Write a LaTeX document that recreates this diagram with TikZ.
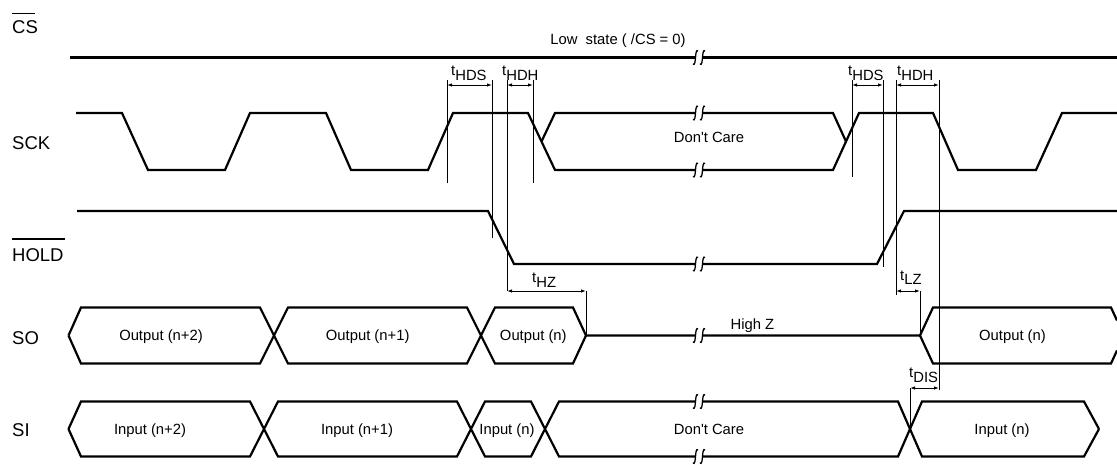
\documentclass[tikz,border=0pt]{standalone}
\usepackage{fontspec}
\setmainfont{Liberation Sans}
\usetikzlibrary{arrows.meta}
\newcommand{\tsub}[1]{t\raisebox{-5pt}{#1}}
\begin{document}
\begin{tikzpicture}[x=1pt,y=-1pt,
  sig/.style={line width=2.2pt, line join=miter},
  thinl/.style={line width=0.9pt},
  dim/.style={line width=0.9pt,{Latex[length=5pt,width=3.5pt]}-{Latex[length=5pt,width=3.5pt]}},
  lbl/.style={font=\fontsize{18.5}{20}\selectfont, inner sep=0pt, anchor=base west},
  txt/.style={font=\fontsize{14.8}{16}\selectfont, inner sep=0pt, anchor=base},
  tm/.style={font=\fontsize{14.8}{16}\selectfont, inner sep=0pt, anchor=base west},
  brk/.style={line width=1.3pt},
  brkpic/.pic={\draw[brk] (2.6,-6.5) .. controls (-1.2,-10) and (1.2,10) .. (-2.6,6.5);}]
\useasboundingbox (0,0) rectangle (1117,465);

% signal labels
\node[lbl] (cs) at (12,34) {CS};
\draw[line width=1.3pt] (12,13.5) -- (35,13.5);
\node[lbl] (sck) at (12,149.5) {SCK};
\node[lbl] (hold) at (12,261.5) {HOLD};
\draw[line width=1.3pt] (12,239) -- (65,239);
\node[lbl] (so) at (12,344) {SO};
\node[lbl] (si) at (12,436.5) {SI};

% CS
\draw[sig] (70,57.5) -- (695.5,57.5);
\draw[sig] (702.5,57.5) -- (1117,57.5);
\node[txt] (low) at (618,45) {Low~~state ( /CS = 0)};

% SCK
\draw[sig] (76,113) -- (122,113) -- (148,170) -- (225,170) -- (250,113) -- (326,113) -- (351,170) -- (428,170) -- (453,113) -- (528,113) -- (555,170) -- (695.5,170);
\draw[sig] (702.5,170) -- (833,170) -- (859,113) -- (933,113) -- (958,170) -- (1036,170) -- (1062,113) -- (1117,113);
\draw[sig] (541.5,141.5) -- (555,113) -- (695.5,113);
\draw[sig] (702.5,113) -- (833,113) -- (846,141.5);
\node[txt] (dc1) at (709,143) {Don\textquotesingle t Care};

% HOLD
\draw[sig] (77,211) -- (488,211) -- (514,264) -- (695.5,264);
\draw[sig] (702.5,264) -- (877,264) -- (904,211) -- (1117,211);

% SO
\draw[sig] (68.5,335.5) -- (81,307.5) -- (260,307.5) -- (288,363.5) -- (467,363.5) -- (495,307.5) -- (573,307.5) -- (586,335.5) -- (695.5,335.5);
\draw[sig] (68.5,335.5) -- (81,363.5) -- (260,363.5) -- (288,307.5) -- (467,307.5) -- (495,363.5) -- (573,363.5) -- (586,335.5);
\draw[sig] (702.5,335.5) -- (920,335.5) -- (933,307.5) -- (1111,307.5) -- (1117,320.5);
\draw[sig] (920,335.5) -- (933,363.5) -- (1111,363.5) -- (1117,350.5);
\node[txt] (o2) at (161,340.5) {Output (n+2)};
\node[txt] (o1) at (367.7,340.5) {Output (n+1)};
\node[txt] (o0) at (533.3,340.5) {Output (n)};
\node[txt] (hz) at (752.5,329) {High Z};
\node[txt] (o0b) at (1012.5,340.5) {Output (n)};

% SI
\draw[sig] (68.5,429) -- (81,401.5) -- (250,401.5) -- (278,456.5) -- (457,456.5) -- (485,401.5) -- (531,401.5) -- (559,456.5) -- (695.5,456.5);
\draw[sig] (68.5,429) -- (81,456.5) -- (250,456.5) -- (278,401.5) -- (457,401.5) -- (485,456.5) -- (531,456.5) -- (559,401.5) -- (695.5,401.5);
\draw[sig] (702.5,456.5) -- (898,456.5) -- (922,401.5) -- (1084,401.5) -- (1099,429);
\draw[sig] (702.5,401.5) -- (898,401.5) -- (922,456.5) -- (1084,456.5) -- (1099,429);
\node[txt] (i2) at (150,434) {Input (n+2)};
\node[txt] (i1) at (357,434) {Input (n+1)};
\node[txt] (i0) at (507,434) {Input (n)};
\node[txt] (dc2) at (709,434) {Don\textquotesingle t Care};
\node[txt] (i0b) at (1002,434) {Input (n)};

% break marks
\foreach \y in {57.5,113,170,264,335.5,401.5,456.5}{
  \pic at (695.5,\y) {brkpic};
  \pic at (702.5,\y) {brkpic};
}

% timing reference lines
\draw[thinl] (447,80) -- (447,183);
\draw[thinl] (492,80) -- (492,238);
\draw[thinl] (507,80) -- (507,291);
\draw[thinl] (533,80) -- (533,183);
\draw[thinl] (586,291) -- (586,335.5);
\draw[thinl] (852,80) -- (852,177);
\draw[thinl] (883,80) -- (883,267);
\draw[thinl] (896,80) -- (896,295);
\draw[thinl] (939,80) -- (939,390);
\draw[thinl] (920,291) -- (920,335.5);
\draw[thinl] (910,388) -- (910,429);

% dimension arrows
\draw[dim] (447,85) -- (492,85);
\draw[dim] (507,85) -- (533,85);
\draw[dim] (852,85) -- (883,85);
\draw[dim] (896,85) -- (939,85);
\draw[dim] (507,291) -- (586,291);
\draw[dim] (896,291) -- (920,291);
\draw[dim] (910,388) -- (939,388);

% timing labels
\node[tm] (thds1) at (451,75.5) {\tsub{HDS}};
\node[tm] (thdh1) at (502,75.5) {\tsub{HDH}};
\node[tm] (thds2) at (848,75.5) {\tsub{HDS}};
\node[tm] (thdh2) at (897,75.5) {\tsub{HDH}};
\node[tm] (thz) at (532,283) {\tsub{HZ}};
\node[tm] (tlz) at (900,280) {\tsub{LZ}};
\node[tm] (tdis) at (909,377) {\tsub{DIS}};
\end{tikzpicture}
\end{document}
